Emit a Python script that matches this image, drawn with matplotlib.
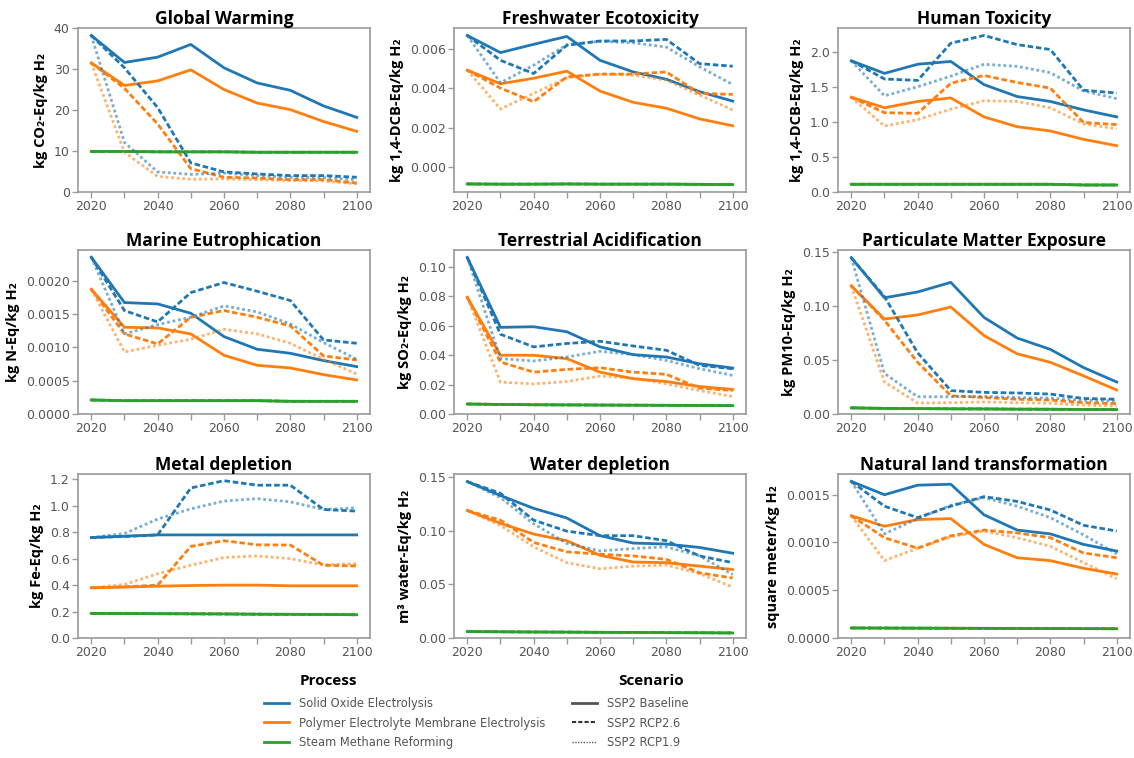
import matplotlib
matplotlib.use('Agg')
import matplotlib.pyplot as plt
from matplotlib.lines import Line2D
from matplotlib.ticker import MultipleLocator, FormatStrFormatter

years = [2020, 2030, 2040, 2050, 2060, 2070, 2080, 2090, 2100]
scenarios = ['SSP2 Baseline', 'SSP2 RCP2.6', 'SSP2 RCP1.9']
processes = ['Solid Oxide Electrolysis', 'Polymer Electrolyte Membrane Electrolysis',
             'Steam Methane Reforming']

# each *_soe / *_pem list holds [baseline, rcp2.6, rcp1.9]; SMR is the same in all scenarios
gw_soe = [[38.2, 31.6, 32.9, 36.0, 30.3, 26.6, 24.8, 21.0, 18.2],
          [38.2, 30.3, 20.6, 7.1, 4.9, 4.4, 4.0, 4.0, 3.6],
          [38.2, 12.1, 4.9, 4.3, 4.6, 4.0, 3.6, 3.5, 3.0]]
gw_pem = [[31.5, 26.0, 27.1, 29.8, 25.0, 21.7, 20.1, 17.2, 14.8],
          [31.5, 25.3, 16.6, 5.7, 3.6, 3.4, 3.0, 3.0, 2.2],
          [31.5, 9.7, 3.8, 3.1, 3.2, 3.0, 2.8, 2.7, 2.0]]
gw_smr = [9.9, 9.9, 9.8, 9.8, 9.8, 9.7, 9.7, 9.7, 9.7]

fe_soe = [[0.00667, 0.0058, 0.00622, 0.00662, 0.00541, 0.00482, 0.00445, 0.00382, 0.00334],
          [0.00667, 0.00541, 0.00474, 0.00617, 0.00639, 0.00639, 0.00647, 0.00524, 0.00511],
          [0.00667, 0.00427, 0.00516, 0.0062, 0.00637, 0.0063, 0.00608, 0.00508, 0.00418]]
fe_pem = [[0.00491, 0.00422, 0.0045, 0.00486, 0.00385, 0.00328, 0.00298, 0.00244, 0.00209],
          [0.00491, 0.0040, 0.00331, 0.00457, 0.00471, 0.00471, 0.00482, 0.00373, 0.00368],
          [0.00491, 0.00294, 0.00373, 0.00452, 0.00471, 0.00466, 0.0044, 0.00365, 0.00289]]
fe_smr = [-0.00086, -0.00087, -0.00087, -0.00086, -0.00087, -0.00087, -0.00087, -0.00088, -0.00089]

ht_soe = [[1.87, 1.69, 1.82, 1.86, 1.53, 1.36, 1.29, 1.17, 1.07],
          [1.87, 1.61, 1.59, 2.12, 2.23, 2.10, 2.03, 1.45, 1.41],
          [1.87, 1.37, 1.50, 1.65, 1.82, 1.79, 1.70, 1.44, 1.33]]
ht_pem = [[1.35, 1.20, 1.29, 1.34, 1.07, 0.93, 0.87, 0.75, 0.66],
          [1.35, 1.13, 1.12, 1.55, 1.66, 1.56, 1.48, 0.99, 0.96],
          [1.35, 0.94, 1.03, 1.18, 1.30, 1.29, 1.20, 0.97, 0.90]]
ht_smr = [0.11, 0.11, 0.11, 0.11, 0.11, 0.11, 0.11, 0.10, 0.10]

me_soe = [[0.00235, 0.00167, 0.00165, 0.00151, 0.00116, 0.00097, 0.00091, 0.0008, 0.00071],
          [0.00235, 0.00155, 0.00138, 0.00182, 0.00197, 0.00184, 0.0017, 0.00111, 0.00106],
          [0.00235, 0.0012, 0.00134, 0.00145, 0.00162, 0.00153, 0.00135, 0.00107, 0.00082]]
me_pem = [[0.00187, 0.0013, 0.00129, 0.0012, 0.00088, 0.00073, 0.00069, 0.00059, 0.00051],
          [0.00187, 0.0012, 0.00105, 0.00145, 0.00155, 0.00145, 0.00132, 0.00087, 0.00081],
          [0.00187, 0.00093, 0.00103, 0.00112, 0.00127, 0.0012, 0.00106, 0.00082, 0.0006]]
me_smr = [0.00021, 0.0002, 0.0002, 0.0002, 0.0002, 0.0002, 0.00019, 0.00019, 0.00019]

ta_soe = [[0.1066, 0.059, 0.0594, 0.056, 0.0457, 0.0404, 0.0388, 0.0342, 0.0313],
          [0.1066, 0.0543, 0.0457, 0.048, 0.0495, 0.0463, 0.0434, 0.0331, 0.0308],
          [0.1066, 0.0377, 0.0361, 0.0388, 0.0427, 0.0404, 0.0365, 0.0308, 0.0263]]
ta_pem = [[0.0795, 0.04, 0.04, 0.0377, 0.0285, 0.024, 0.0221, 0.0187, 0.0167],
          [0.0795, 0.0354, 0.0285, 0.0304, 0.0315, 0.0285, 0.027, 0.0176, 0.016],
          [0.0795, 0.0217, 0.0205, 0.0221, 0.0258, 0.0244, 0.0205, 0.016, 0.0119]]
ta_smr = [0.0068, 0.0065, 0.0063, 0.0062, 0.0061, 0.006, 0.0059, 0.0058, 0.0057]

pm_soe = [[0.1452, 0.1079, 0.1133, 0.1222, 0.0897, 0.0705, 0.06, 0.0431, 0.0297],
          [0.1452, 0.109, 0.0568, 0.0217, 0.0201, 0.0195, 0.0185, 0.0144, 0.0137],
          [0.1452, 0.0377, 0.016, 0.016, 0.0163, 0.0153, 0.0147, 0.0128, 0.0121]]
pm_pem = [[0.119, 0.0881, 0.092, 0.0993, 0.0728, 0.0559, 0.048, 0.0354, 0.0223],
          [0.119, 0.087, 0.048, 0.0169, 0.0153, 0.0137, 0.013, 0.0105, 0.0096],
          [0.119, 0.0297, 0.0102, 0.0105, 0.0112, 0.0105, 0.0099, 0.0083, 0.0073]]
pm_smr = [0.0057, 0.0052, 0.005, 0.0048, 0.0047, 0.0045, 0.0044, 0.0042, 0.0041]

md_soe = [[0.76, 0.77, 0.78, 0.78, 0.78, 0.78, 0.78, 0.78, 0.78],
          [0.76, 0.768, 0.78, 1.135, 1.19, 1.156, 1.156, 0.972, 0.96],
          [0.76, 0.79, 0.9, 0.977, 1.036, 1.054, 1.03, 0.972, 0.985]]
md_pem = [[0.38, 0.385, 0.392, 0.397, 0.4, 0.4, 0.395, 0.395, 0.395],
          [0.38, 0.387, 0.4, 0.693, 0.736, 0.705, 0.703, 0.55, 0.545],
          [0.38, 0.405, 0.486, 0.55, 0.609, 0.621, 0.6, 0.553, 0.563]]
md_smr = [0.186, 0.185, 0.184, 0.183, 0.182, 0.18, 0.179, 0.178, 0.176]

wd_soe = [[0.146, 0.133, 0.121, 0.112, 0.0955, 0.0886, 0.0877, 0.0845, 0.0791],
          [0.146, 0.135, 0.11, 0.0997, 0.0955, 0.0955, 0.0908, 0.0766, 0.0703],
          [0.146, 0.131, 0.1066, 0.0883, 0.0813, 0.0835, 0.0851, 0.0766, 0.0592]]
wd_pem = [[0.119, 0.107, 0.097, 0.0908, 0.0772, 0.0709, 0.0703, 0.0671, 0.0639],
          [0.119, 0.11, 0.0892, 0.0804, 0.0782, 0.0766, 0.0734, 0.0608, 0.056],
          [0.119, 0.105, 0.0851, 0.0703, 0.0646, 0.0671, 0.068, 0.0601, 0.0475]]
wd_smr = [0.006, 0.0058, 0.0056, 0.0055, 0.0053, 0.0052, 0.005, 0.0049, 0.0047]

nl_soe = [[0.00164, 0.0015, 0.0016, 0.00161, 0.00129, 0.00113, 0.00109, 0.00098, 0.00091],
          [0.00164, 0.00138, 0.00126, 0.00138, 0.00148, 0.00143, 0.00134, 0.00118, 0.00112],
          [0.00164, 0.00109, 0.00125, 0.00139, 0.00147, 0.00138, 0.00126, 0.00108, 0.00088]]
nl_pem = [[0.00128, 0.00117, 0.00124, 0.00125, 0.00098, 0.00084, 0.00081, 0.00073, 0.00067],
          [0.00128, 0.00105, 0.00094, 0.00107, 0.00113, 0.0011, 0.00105, 0.00089, 0.00084],
          [0.00128, 0.00081, 0.00094, 0.00106, 0.00112, 0.00105, 0.00096, 0.00079, 0.00062]]
nl_smr = [0.000105, 0.000104, 0.000103, 0.000102, 0.000101, 0.0001, 0.000099, 0.000098, 0.000097]

titles = ['Global Warming', 'Freshwater Ecotoxicity', 'Human Toxicity',
          'Marine Eutrophication', 'Terrestrial Acidification', 'Particulate Matter Exposure',
          'Metal depletion', 'Water depletion', 'Natural land transformation']
ylabels = ['kg CO₂-Eq/kg H₂', 'kg 1,4-DCB-Eq/kg H₂', 'kg 1,4-DCB-Eq/kg H₂',
           'kg N-Eq/kg H₂', 'kg SO₂-Eq/kg H₂', 'kg PM10-Eq/kg H₂',
           'kg Fe-Eq/kg H₂', 'm³ water-Eq/kg H₂', 'square meter/kg H₂']
ytick_steps = [10, 0.002, 0.5, 0.0005, 0.02, 0.05, 0.2, 0.05, 0.0005]
ytick_fmts = ['%.0f', '%.3f', '%.1f', '%.4f', '%.2f', '%.2f', '%.1f', '%.2f', '%.4f']

panels = [(gw_soe, gw_pem, gw_smr), (fe_soe, fe_pem, fe_smr), (ht_soe, ht_pem, ht_smr),
          (me_soe, me_pem, me_smr), (ta_soe, ta_pem, ta_smr), (pm_soe, pm_pem, pm_smr),
          (md_soe, md_pem, md_smr), (wd_soe, wd_pem, wd_smr), (nl_soe, nl_pem, nl_smr)]

colors = ['#1f77b4', '#ff7f0e', '#2ca02c']
dashes = ['-', (0, (2, 1)), (0, (1, 1))]
alphas = [1.0, 1.0, 0.6]
tick_grey = '#555555'
spine_grey = '#9a9a9a'
bold_font = ['Open Sans', 'DejaVu Sans']

W, H = 1134, 758
fig = plt.figure(figsize=(W / 100, H / 100), dpi=100)

col_left = [78, 454, 838]
row_bottom = [192, 414, 638]
ax_w, ax_h = 292, 164

for i, (soe, pem, smr) in enumerate(panels):
    r, c = divmod(i, 3)
    ax = fig.add_axes([col_left[c] / W, 1 - row_bottom[r] / H, ax_w / W, ax_h / H])
    for k in range(3):
        ax.plot(years, soe[k], color=colors[0], lw=2.0, linestyle=dashes[k], alpha=alphas[k])
        ax.plot(years, pem[k], color=colors[1], lw=2.0, linestyle=dashes[k], alpha=alphas[k])
        ax.plot(years, smr, color=colors[2], lw=2.0, linestyle=dashes[k], alpha=alphas[k])
    ax.set_title(titles[i], fontsize=12.5, fontweight='bold', family=bold_font, pad=3)
    ax.set_ylabel(ylabels[i], fontsize=10.5, fontweight='bold', family=bold_font, labelpad=4)
    ax.xaxis.set_major_locator(MultipleLocator(20))
    ax.xaxis.set_minor_locator(MultipleLocator(10))
    ax.yaxis.set_major_locator(MultipleLocator(ytick_steps[i]))
    ax.yaxis.set_major_formatter(FormatStrFormatter(ytick_fmts[i]))
    ax.set_xlim(2016, 2104)
    lo, hi = ax.get_ylim()
    if i != 1:
        ax.set_ylim(0, hi)
    ax.tick_params(which='both', colors=spine_grey, labelcolor=tick_grey, labelsize=9,
                   length=4, width=1, pad=2)
    for s in ax.spines.values():
        s.set_color(spine_grey)
        s.set_linewidth(1.2)

proc_handles = [Line2D([], [], color=colors[j], lw=2) for j in range(3)]
scen_handles = [Line2D([], [], color='#555555', lw=2, linestyle='-'),
                Line2D([], [], color='#333333', lw=1.5, linestyle=(0, (2, 1))),
                Line2D([], [], color='#555555', lw=1, linestyle=(0, (1, 1)))]

leg_y = 1 - 692 / H
leg_kw = dict(loc='upper left', frameon=False, fontsize=8.3, handlelength=2.2,
              handletextpad=0.9, labelspacing=0.6, borderaxespad=0)
leg1 = fig.legend(proc_handles, processes, bbox_to_anchor=(259 / W, leg_y), **leg_kw)
leg2 = fig.legend(scen_handles, scenarios, bbox_to_anchor=(567 / W, leg_y), **leg_kw)
for leg in (leg1, leg2):
    for t in leg.get_texts():
        t.set_color(tick_grey)
fig.text(300 / W, 1 - 681 / H, 'Process', fontsize=11, fontweight='bold',
         family=bold_font, va='center', ha='left')
fig.text(618 / W, 1 - 681 / H, 'Scenario', fontsize=11, fontweight='bold',
         family=bold_font, va='center', ha='left')

fig.savefig('out.png', dpi=100, facecolor='white')
